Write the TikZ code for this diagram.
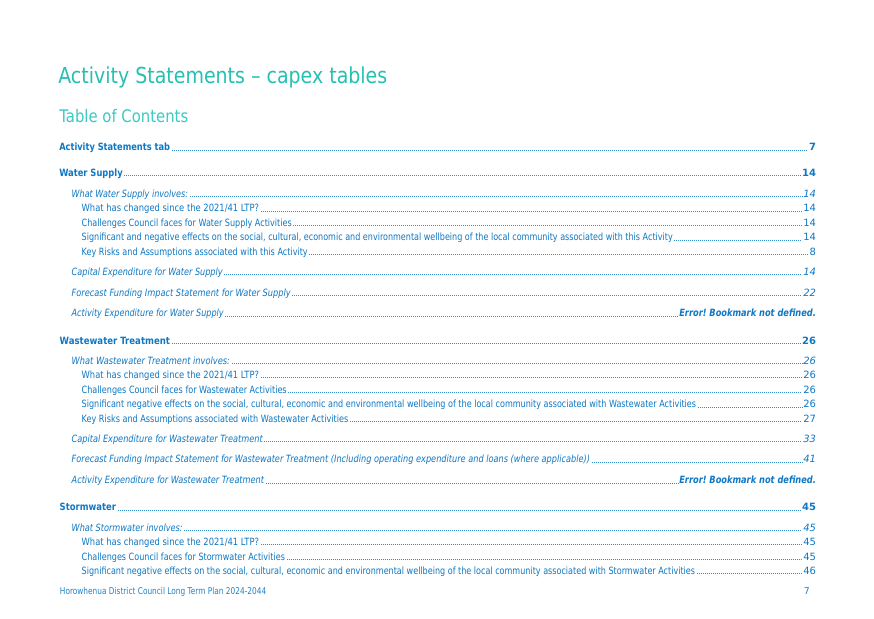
\documentclass[tikz,border=0pt]{standalone}
\usepackage{fontspec}
\setmainfont{DejaVu Sans}[ItalicFont={DejaVu Sans Oblique},BoldFont={DejaVu Sans Bold},BoldItalicFont={DejaVu Sans Bold Oblique}]
\usepackage{graphicx}
\frenchspacing
\definecolor{titlecol}{RGB}{38,192,178}
\definecolor{headcol}{RGB}{60,202,196}
\definecolor{tocblue}{RGB}{14,120,196}
\definecolor{footcol}{RGB}{30,132,200}
\tikzset{
  tocitem/.style={inner sep=0pt,outer sep=0pt,text=tocblue,font=\fontsize{7.5}{8.5}\selectfont},
  leader/.style={draw=tocblue!85,line width=0.7pt,dash pattern=on 0.7pt off 0.8pt},
}
% #1 name, #2 x, #3 x end, #4 baseline y, #5 font switch, #6 text, #7 page content
\newcommand\tocentry[7]{%
  \node[tocitem,anchor=base west] (t#1) at (#2,#4) {\resizebox{\dimexpr(#3pt-#2pt)*3/4\relax}{\height}{#5#6}};
  \node[tocitem,anchor=base east] (n#1) at (816,#4) {#7};
  \draw[leader] ([xshift=1.2pt,yshift=0.35pt]t#1.base east) -- ([xshift=-1.2pt,yshift=0.35pt]n#1.base west);
}
\newcommand\errbm{\resizebox{102.5pt}{\height}{\bfseries\itshape Error! Bookmark not defined.}}
\begin{document}
\begin{tikzpicture}[x=0.75pt,y=-0.75pt]
\useasboundingbox[fill=white] (0,0) rectangle (874,618);
\node[inner sep=0pt,anchor=base west,text=titlecol,font=\fontsize{16.5}{19}\selectfont] (title) at (58,83.3)
  {\resizebox{246.75pt}{\height}{Activity Statements – capex tables}};
\node[inner sep=0pt,anchor=base west,text=headcol,font=\fontsize{13}{15}\selectfont] (toc) at (59,122.7)
  {\resizebox{96.75pt}{\height}{Table of Contents}};

\tocentry{a}{59.3}{170}{150.5}{\bfseries}{Activity Statements tab}{\bfseries 7}
\tocentry{b}{59.3}{122.7}{176}{\bfseries}{Water Supply}{\bfseries 14}
\tocentry{c}{71.7}{188}{197.3}{\itshape}{What Water Supply involves:}{\itshape 14}
\tocentry{d}{81.7}{259}{211.7}{}{What has changed since the 2021/41 LTP?}{14}
\tocentry{e}{81.7}{291.7}{226}{}{Challenges Council faces for Water Supply Activities}{14}
\tocentry{f}{81.7}{672.7}{240.7}{}{Significant and negative effects on the social, cultural, economic and environmental wellbeing of the local community associated with this Activity}{14}
\tocentry{g}{81.7}{307.7}{255}{}{Key Risks and Assumptions associated with this Activity}{8}
\tocentry{h}{71.7}{222.7}{275}{\itshape}{Capital Expenditure for Water Supply}{\itshape 14}
\tocentry{i}{71.7}{290.7}{296}{\itshape}{Forecast Funding Impact Statement for Water Supply}{\itshape 22}
\tocentry{j}{71.7}{223.7}{316.7}{\itshape}{Activity Expenditure for Water Supply}{\errbm}

\tocentry{k}{59.7}{170}{344}{\bfseries}{Wastewater Treatment}{\bfseries 26}
\tocentry{l}{71.7}{230}{364.3}{\itshape}{What Wastewater Treatment involves:}{\itshape 26}
\tocentry{m}{81.7}{259}{378.3}{}{What has changed since the 2021/41 LTP?}{26}
\tocentry{n}{81.7}{286.7}{393.3}{}{Challenges Council faces for Wastewater Activities}{26}
\tocentry{o}{81.7}{696}{407.7}{}{Significant negative effects on the social, cultural, economic and environmental wellbeing of the local community associated with Wastewater Activities}{26}
\tocentry{p}{81.7}{348.3}{422}{}{Key Risks and Assumptions associated with Wastewater Activities}{27}
\tocentry{q}{71.7}{262.7}{442}{\itshape}{Capital Expenditure for Wastewater Treatment}{\itshape 33}
\tocentry{r}{71.7}{590}{462.7}{\itshape}{Forecast Funding Impact Statement for Wastewater Treatment (Including operating expenditure and loans (where applicable))}{\itshape 41}
\tocentry{s}{71.7}{264}{483.7}{\itshape}{Activity Expenditure for Wastewater Treatment}{\errbm}

\tocentry{u}{59.7}{116}{510.7}{\bfseries}{Stormwater}{\bfseries 45}
\tocentry{v}{71.7}{182.7}{531}{\itshape}{What Stormwater involves:}{\itshape 45}
\tocentry{w}{81.7}{259}{545.3}{}{What has changed since the 2021/41 LTP?}{45}
\tocentry{x}{81.7}{285}{560}{}{Challenges Council faces for Stormwater Activities}{45}
\tocentry{y}{81.7}{695}{574.3}{}{Significant negative effects on the social, cultural, economic and environmental wellbeing of the local community associated with Stormwater Activities}{46}

\node[inner sep=0pt,anchor=base west,text=footcol,font=\fontsize{7}{8}\selectfont] (foot) at (59.7,594.3)
  {\resizebox{154.7pt}{\height}{Horowhenua District Council Long Term Plan 2024-2044}};
\node[inner sep=0pt,anchor=base east,text=footcol,font=\fontsize{7}{8}\selectfont] (pg) at (810,594.3) {7};
\end{tikzpicture}
\end{document}
